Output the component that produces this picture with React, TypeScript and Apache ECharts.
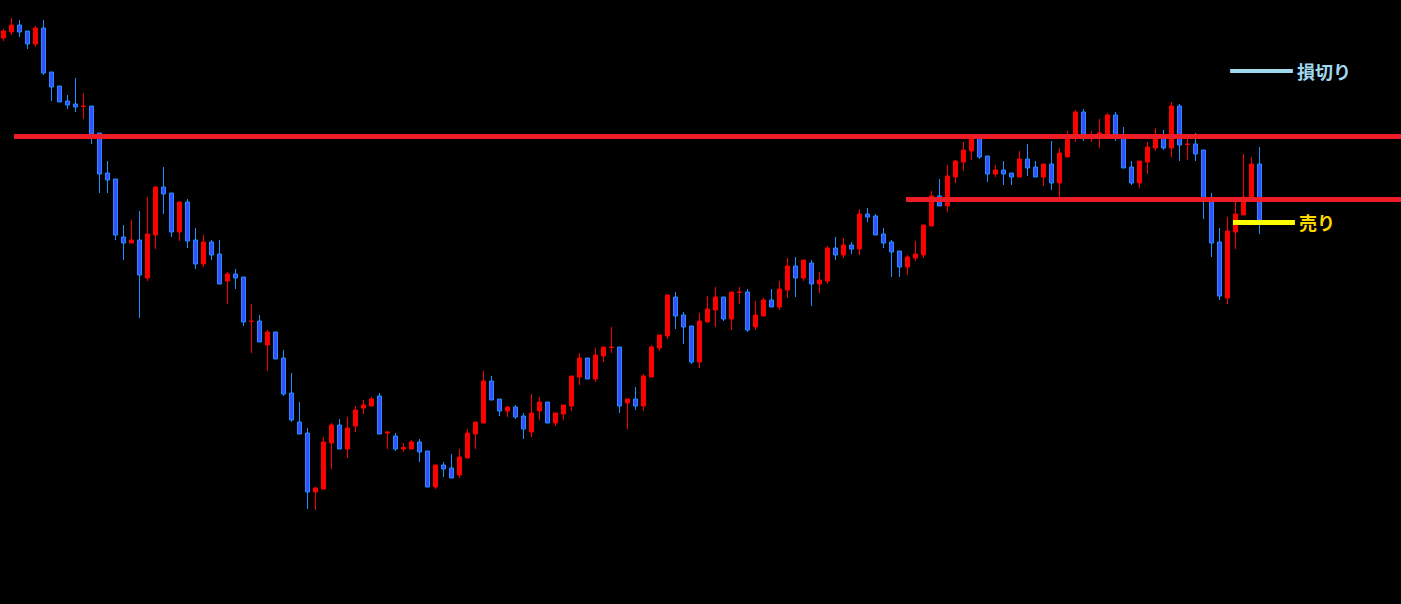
import React, { useEffect, useRef } from "react";
import * as echarts from "echarts";

// OHLC (price units)
const opens = [962,968,975,969,956,972,928,914,899,896,893.5,894,867,827,821,763,757,760,722,765,813,807,768,798,760,736,758,746,719,726,723,678.5,679,655,668,642,607,578,567,508,511,557,575,551,574,592,594,604,567,564,551,551,558,549,513,535,532,525,542,566,577,619,601,589,593,584,568,589,598,577,586,594,623,642,621,644,652.5,653,597,601,594,623,652,664,703,685,674,638,678,690,703,681,707.5,708,673,684,700,693,710,734,722,737,716,719,752,745,755,751,786,784,766,758,749,733,742,745,774,804,794,823,838,849,863,844,826,830,827,823,841,833,823,836,817,843,864,888,864,863,866,885,863,833,817,838,852,865,852,894,855.5,856,850,800,758,702,768,785,803,836];
const closes = [969,975,968,956,972,927,913,898,895,893,894,866,826,820,765,757,760,725,766,813,806,768,798,759,736,758,745,716,726,722,678,679,658,668,641,606,580,566,508,512,558,575,551,572,590,595,601,566,568,551,552.5,558,548,513,535,531,522,543,567,578,619,600,589,593,583,571,587,598,577,587,595,624,642,621,645,653,653,594,601,594,624,653,665,705,684,673,638,679,691,703,681,708,708,670,685,700,693,711,734,722,740,716,720,752,745,755,751,786,783,765,757,748,733,743,746,775,804,794,824,839,850,863,843,826,830,826,823,841,832,823,836,817,847,863,888,863,865,867,885,863,832,817,839,853,863,852,894,855,856,846,800,757,704,769,786,803,836,780];
const lows = [959,965,963,951,953,925,899,898,891,888,881,856,807,807,760,740,757,682,719,751,786,763,759,752,731,733,740,716,696,711,674,647,658,629,641,604,578,566,491,490,511,531,551,542,568,586,594,566,551,549,548,551,538,513,511,523,522,522,542,551,577,600,584,583,581,561,563,580,577,574,580,589,615,621,618,638,647,587,571,590,589,623,649,661,671,656,636,632,678,673,679,670,696,668,670,684,693,690,702,703,719,694,707,716,740,742,746,745,778,765,752,723,723,725,739,742,774,794,788,817,829,840,841,818,823,815,815,823,824,823,814,810,803,843,858,859,858,852,866,859,832,815,812,826,849,850,843,839,840,839,781,743,700,696,751,785,803,766];
const highs = [971,982,980,969,974,980,928,914,905,922,907,894,867,839,821,775,780,789,803,814,833,807,798,801,772,765,760,760,728,731,723,696,685,670,668,650,627,598,572,513,563,577,581,583,594,600,603,607,569,567,557,560,561,549,535,538,546,551,571,578,629,624,601,594,595,587,606,603,598,587,595,624,647,642,652,653,673,653,601,613,626,655,665,705,708,688,674,687,704,713,703,708,713,711,699,702,711,719,742,743,740,740,728,754,763,762,758,791,792,786,772,760,749,745,759,775,809,821,835,840,858,865,865,844,835,839,827,849,856,839,836,859,852,869,890,891,869,881,887,888,873,839,839,858,872,870,898,896,865,867,850,807,772,783,801,846,843,853];

// Horizontal levels: [price, start bar, end bar]
const resistanceLine = [863.5, 1.34, 174.71];
const supportLine = [800.5, 112.84, 174.71];
const stopLossLine = [929, 153.35, 161.2];
const sellLine = [778, 153.7, 161.45];
const stopLossLabel = "損切り";
const sellLabel = "売り";

const xMin = -0.4125;
const xMax = 174.7125;

export default function App() {
  const ref = useRef<HTMLDivElement>(null);
  useEffect(() => {
    const chart = echarts.init(ref.current!, null, { renderer: "svg" });
    const ohlc = opens.map((o, i) => [i, o, closes[i], lows[i], highs[i]]);
    const seg = (l: number[], style: any, label: any) => [
      { coord: [l[1], l[0]], lineStyle: style, label },
      { coord: [l[2], l[0]] },
    ];
    const labelStyle = (text: string, color: string) => ({
      show: true,
      position: "end",
      distance: 4,
      formatter: text,
      color,
      fontSize: 18,
      fontWeight: "bold",
      fontFamily: "Noto Sans CJK JP",
    });
    chart.setOption({
      animation: false,
      backgroundColor: "#000000",
      grid: { left: 0, top: 0, right: 0, bottom: 0 },
      xAxis: { type: "value", min: xMin, max: xMax, show: false },
      yAxis: { type: "value", min: 396, max: 1000, show: false },
      series: [
        {
          type: "candlestick",
          data: ohlc,
          encode: { x: 0, y: [1, 2, 3, 4] },
          barWidth: 5,
          clip: false,
          itemStyle: {
            color: "#ff0000",
            borderColor: "#ff0000",
            color0: "#3b4cff",
            borderColor0: "#1e90ff",
            borderWidth: 1,
          },
          markLine: {
            silent: true,
            symbol: ["none", "none"],
            animation: false,
            data: [
              seg(resistanceLine, { color: "#ee1c25", width: 5, type: "solid", cap: "butt" }, { show: false }),
              seg(supportLine, { color: "#ee1c25", width: 5, type: "solid", cap: "butt" }, { show: false }),
              seg(stopLossLine, { color: "#a0d8ef", width: 4, type: "solid", cap: "butt" }, labelStyle(stopLossLabel, "#a0d8ef")),
              seg(sellLine, { color: "#ffff00", width: 5, type: "solid", cap: "butt" }, labelStyle(sellLabel, "#ffd700")),
            ],
          },
        },
      ],
    });
    return () => chart.dispose();
  }, []);
  return (
    <div
      ref={ref}
      style={{ position: "fixed", left: 0, top: 0, width: 1401, height: 604, background: "#000" }}
    />
  );
}
